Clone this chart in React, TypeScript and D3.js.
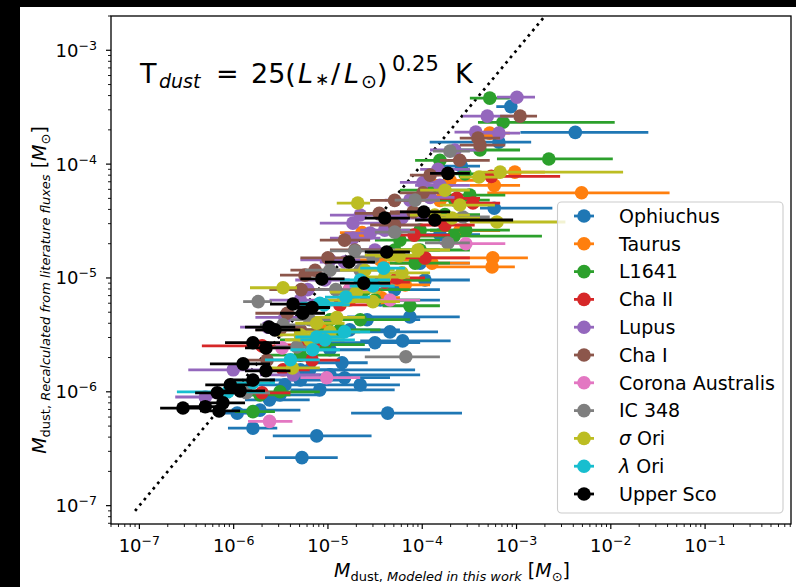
import React from "react";
import * as d3 from "d3";

// Each point: [M_dust modeled, M_dust recalculated, lower bound, upper bound] in solar masses
type Pt = [number, number, number, number];

const ophiuchus: Pt[] = [
  [4.2e-3, 1.9e-4, 1.1e-3, 2.5e-2],
  [8.7e-4, 3.2e-4, 6.1e-4, 1.0e-3],
  [6.5e-4, 1.56e-4, 1.2e-4, 1.43e-3],
  [5.8e-4, 4.1e-5, 4.1e-4, 2.4e-3],
  [2.6e-4, 9.6e-5, 1.54e-4, 4.1e-4],
  [7.4e-5, 4.55e-6, 1.6e-5, 2.5e-4],
  [4.55e-5, 3.36e-6, 1.24e-5, 1.47e-4],
  [6.2e-5, 2.8e-6, 2.2e-5, 2.0e-4],
  [3.15e-5, 2.7e-6, 1.05e-5, 9.5e-5],
  [1.41e-5, 1.8e-6, 6.4e-6, 2.64e-5],
  [7.6e-6, 4.1e-7, 2.6e-6, 2.9e-5],
  [5.3e-6, 2.64e-7, 2.15e-6, 1.27e-5],
  [1.6e-6, 4.8e-7, 8.7e-7, 2.9e-6],
  [1.09e-6, 6.5e-7, 6.4e-7, 2.15e-6],
  [4.3e-5, 6.5e-7, 1.76e-5, 2.64e-4],
  [2.2e-5, 1.15e-6, 1.05e-5, 5.8e-5],
  [1.5e-5, 1.33e-6, 5.1e-6, 4.55e-5],
  [3.1e-6, 9.4e-7, 1.32e-6, 8.2e-6],
  [5.1e-6, 1.56e-6, 1.9e-6, 1.5e-5],
  [1.05e-5, 2.34e-6, 5.1e-6, 2.8e-5],
  [3.5e-6, 1.15e-6, 1.7e-6, 1.05e-5],
  [2.6e-5, 4.3e-6, 1.05e-5, 9.5e-5],
  [6.4e-6, 1.56e-6, 2.4e-6, 8.4e-5],
  [8.2e-6, 1.04e-6, 4.0e-6, 5.1e-5],
  [1.9e-6, 6.9e-7, 1.17e-6, 5.1e-6],
  [3.6e-5, 6.4e-6, 1.9e-5, 1.54e-4],
  [9.5e-5, 1.35e-5, 5.1e-5, 3.2e-4],
  [1.54e-4, 2.4e-5, 8.4e-5, 4.1e-4],
  [1.07e-4, 9.6e-6, 5.8e-5, 3.2e-4],
  [1.7e-5, 3.5e-6, 8.2e-6, 5.8e-5],
  [5.1e-6, 1.27e-6, 2.4e-6, 1.34e-5],
  [2.4e-6, 8.5e-7, 1.32e-6, 6.4e-6],
  [5.1e-5, 7.9e-6, 2.2e-5, 1.54e-4],
  [1.05e-5, 1.41e-6, 5.1e-6, 9.5e-5],
];

const taurus: Pt[] = [
  [4.9e-3, 5.6e-5, 4.9e-4, 4.2e-2],
  [9.6e-4, 8.5e-5, 6.2e-4, 2.0e-3],
  [5.2e-4, 1.87e-4, 3.2e-4, 8.5e-4],
  [5.8e-4, 6.5e-5, 3.2e-4, 1.09e-3],
  [5.6e-4, 1.5e-5, 5.1e-5, 1.32e-3],
  [5.5e-4, 1.25e-5, 1.21e-4, 9.6e-4],
  [1.27e-4, 1.35e-5, 3.6e-5, 3.2e-4],
  [2.3e-5, 2.5e-5, 1.34e-5, 4.55e-5],
  [3.7e-5, 6.7e-6, 2.2e-5, 5.8e-5],
  [6.6e-5, 8.7e-6, 3.6e-5, 1.21e-4],
  [1.54e-4, 4.8e-5, 7.4e-5, 3.2e-4],
  [2.5e-4, 2.6e-5, 1.21e-4, 6.7e-4],
  [1.7e-5, 6.4e-6, 1.05e-5, 2.8e-5],
  [9.3e-6, 3.5e-6, 5.1e-6, 1.7e-5],
  [1.97e-4, 7.2e-5, 1.21e-4, 4.1e-4],
  [3.6e-5, 1.44e-5, 1.93e-5, 7.4e-5],
];

const l1641: Pt[] = [
  [5.2e-4, 3.8e-4, 3.2e-4, 8.5e-4],
  [7.2e-4, 2.33e-4, 3.9e-4, 1.1e-2],
  [2.2e-3, 1.11e-4, 6.2e-4, 1.05e-2],
  [2.84e-4, 8.2e-5, 1.54e-4, 6.7e-4],
  [2.9e-4, 2.63e-5, 1.21e-4, 8.5e-4],
  [2.17e-4, 2.33e-5, 9.5e-5, 1.86e-3],
  [8.4e-5, 1.35e-5, 4.55e-5, 1.97e-4],
  [7.4e-5, 5.7e-6, 3.8e-5, 1.54e-4],
  [1.6e-6, 6.7e-7, 1.03e-6, 2.74e-6],
  [5.1e-6, 2.1e-6, 2.4e-6, 1.34e-5],
  [1.34e-5, 3.5e-6, 5.1e-6, 3.6e-5],
  [3.15e-5, 6.4e-6, 1.34e-5, 9.5e-5],
  [5.1e-5, 1.76e-5, 2.2e-5, 1.54e-4],
  [1.21e-4, 5.9e-5, 5.8e-5, 3.2e-4],
  [1.74e-4, 3.6e-5, 7.4e-5, 4.1e-4],
  [2.2e-5, 4.3e-6, 1.05e-5, 7.4e-5],
  [3.1e-6, 1.0e-6, 1.7e-6, 8.2e-6],
  [4.1e-4, 1.33e-4, 2.2e-4, 1.09e-3],
  [4.0e-5, 9.6e-6, 1.93e-5, 1.21e-4],
  [9.5e-5, 2.63e-5, 5.1e-5, 2.5e-4],
  [9.3e-6, 2.6e-6, 5.1e-6, 2.46e-5],
  [3.2e-4, 5.35e-5, 1.74e-4, 7.6e-4],
  [1.54e-4, 1.08e-4, 8.4e-5, 3.2e-4],
  [2.22e-4, 4.83e-5, 1.21e-4, 5.2e-4],
  [5.8e-5, 2.15e-5, 3.15e-5, 1.54e-4],
  [2.46e-5, 7.9e-6, 1.34e-5, 7.4e-5],
  [1.05e-5, 4.3e-6, 5.1e-6, 2.8e-5],
  [5.7e-6, 2.86e-6, 3.1e-6, 1.5e-5],
  [1.9e-6, 9.4e-7, 1.17e-6, 4.0e-6],
  [9.5e-5, 1.76e-5, 5.1e-5, 3.2e-4],
];

const chaII: Pt[] = [
  [5.4e-4, 7.8e-5, 4.1e-4, 2.9e-3],
  [2.33e-4, 5.0e-5, 1.54e-4, 4.1e-4],
  [3.45e-4, 4.55e-5, 2.2e-4, 6.7e-4],
  [8.2e-5, 2.38e-5, 4.55e-5, 1.97e-4],
  [5.4e-5, 1.0e-5, 3.15e-5, 1.07e-4],
  [4.0e-5, 9.2e-6, 2.2e-5, 7.4e-5],
  [3.34e-6, 1.56e-6, 1.9e-6, 6.4e-6],
  [2.0e-6, 9.8e-7, 1.17e-6, 4.0e-6],
  [6.8e-6, 1.9e-6, 4.0e-6, 1.34e-5],
  [2.0e-6, 2.53e-6, 4.6e-7, 5.1e-6],
  [1.07e-4, 1.5e-5, 5.8e-5, 3.2e-4],
  [1.34e-5, 5.8e-6, 7.3e-6, 2.8e-5],
  [1.74e-4, 2.92e-5, 9.5e-5, 3.6e-4],
  [1.7e-5, 7.9e-6, 9.3e-6, 3.6e-5],
  [5.1e-6, 2.58e-6, 3.1e-6, 1.05e-5],
];

const lupus: Pt[] = [
  [1.01e-3, 3.87e-4, 6.2e-4, 1.57e-3],
  [4.9e-4, 2.64e-4, 2.7e-4, 9.2e-4],
  [3.7e-4, 1.91e-4, 2.2e-4, 6.7e-4],
  [6.5e-4, 1.87e-4, 4.1e-4, 1.09e-3],
  [1.47e-4, 9.0e-5, 9.5e-5, 3.2e-4],
  [1.02e-4, 6.9e-5, 5.8e-5, 1.74e-4],
  [6.1e-5, 3.36e-5, 3.15e-5, 1.21e-4],
  [1.84e-5, 3.03e-5, 8.2e-6, 4.55e-5],
  [1.84e-5, 2.24e-5, 1.05e-5, 3.6e-5],
  [2.8e-5, 2.48e-5, 1.5e-5, 5.8e-5],
  [1.21e-4, 5.1e-5, 7.4e-5, 2.2e-4],
  [6.1e-6, 7.9e-6, 2.4e-6, 1.05e-5],
  [2.3e-6, 3.7e-6, 1.17e-6, 5.1e-6],
  [9.9e-7, 1.56e-6, 3.3e-7, 2.0e-6],
  [5.0e-7, 9.0e-7, 2.4e-7, 8.1e-7],
  [1.5e-5, 1.38e-5, 8.2e-6, 3.15e-5],
  [3.15e-5, 1.76e-5, 1.7e-5, 5.8e-5],
  [4.3e-6, 1.41e-6, 1.9e-6, 8.2e-6],
  [5.5e-5, 3.43e-5, 3.4e-5, 1.21e-4],
  [9.3e-6, 9.6e-6, 4.5e-6, 1.7e-5],
  [3.5e-6, 4.5e-6, 1.7e-6, 6.4e-6],
  [2.22e-4, 1.33e-4, 1.21e-4, 4.1e-4],
  [1.54e-4, 6.5e-5, 8.4e-5, 3.2e-4],
  [7.4e-5, 4.83e-5, 4.0e-5, 1.54e-4],
  [4.0e-5, 2.63e-5, 2.2e-5, 7.4e-5],
  [1.05e-5, 1.44e-5, 5.1e-6, 2.2e-5],
  [2.2e-5, 3.57e-5, 1.05e-5, 5.1e-5],
  [5.1e-6, 6.4e-6, 2.4e-6, 1.05e-5],
];

const chaI: Pt[] = [
  [1.09e-3, 2.64e-4, 6.7e-4, 1.65e-3],
  [3.9e-4, 1.69e-4, 2.5e-4, 6.7e-4],
  [4.1e-4, 1.47e-4, 2.5e-4, 7.6e-4],
  [1.02e-4, 5.6e-5, 5.8e-5, 1.74e-4],
  [8.0e-5, 3.8e-5, 4.55e-5, 1.54e-4],
  [3.5e-5, 3.7e-5, 1.93e-5, 5.8e-5],
  [1.0e-5, 1.5e-5, 5.1e-6, 1.7e-5],
  [5.7e-6, 1.06e-5, 3.1e-6, 1.05e-5],
  [5.2e-6, 7.9e-6, 2.4e-6, 9.3e-6],
  [3.7e-6, 4.9e-6, 1.7e-6, 6.4e-6],
  [2.26e-6, 1.9e-6, 1.17e-6, 4.0e-6],
  [5.1e-6, 3.5e-6, 2.7e-6, 8.2e-6],
  [1.5e-5, 2.15e-5, 8.2e-6, 2.8e-5],
  [5.1e-5, 4.8e-5, 2.8e-5, 9.5e-5],
  [2.5e-4, 1.08e-4, 1.54e-4, 5.2e-4],
  [1.21e-4, 8.0e-5, 7.4e-5, 2.22e-4],
  [5.1e-5, 2.92e-5, 2.8e-5, 9.5e-5],
  [1.93e-5, 1.76e-5, 1.05e-5, 4.0e-5],
  [7.3e-6, 1.17e-5, 4.0e-6, 1.34e-5],
  [3.1e-6, 3.5e-6, 1.7e-6, 5.7e-6],
];

const coronaAustralis: Pt[] = [
  [2.9e-4, 2.0e-5, 1.54e-4, 7.6e-4],
  [2.4e-6, 5.5e-7, 1.42e-6, 4.2e-6],
  [3.26e-6, 2.43e-6, 1.9e-6, 5.7e-6],
  [9.7e-6, 1.33e-6, 5.1e-6, 2.2e-5],
  [4.55e-5, 6.4e-6, 2.8e-5, 9.5e-5],
  [1.7e-5, 7.9e-6, 1.05e-5, 3.15e-5],
];

const ic348: Pt[] = [
  [1.97e-4, 1.3e-4, 1.3e-4, 3.2e-4],
  [2.7e-4, 3.43e-5, 1.54e-4, 5.2e-4],
  [1.87e-4, 2.03e-5, 1.07e-4, 3.2e-4],
  [5.1e-5, 2.53e-5, 3.15e-5, 8.4e-5],
  [6.7e-5, 2.03e-6, 2.46e-5, 1.54e-4],
  [1.93e-5, 1.73e-5, 1.05e-5, 3.6e-5],
  [3.0e-5, 1.53e-5, 1.7e-5, 5.1e-5],
  [1.05e-5, 1.17e-5, 5.7e-6, 1.93e-5],
  [1.21e-5, 7.9e-6, 7.3e-6, 2.2e-5],
  [1.82e-6, 6.2e-6, 1.26e-6, 2.55e-6],
  [4.7e-6, 2.48e-6, 2.7e-6, 8.2e-6],
  [3.34e-6, 3.87e-6, 1.9e-6, 5.7e-6],
  [1.36e-6, 9.8e-7, 8.1e-7, 2.43e-6],
  [8.4e-5, 4.83e-5, 5.1e-5, 1.54e-4],
  [2.2e-5, 1.17e-5, 1.18e-5, 4.55e-5],
  [6.4e-6, 4.3e-6, 4.0e-6, 1.34e-5],
];

const sigmaOri: Pt[] = [
  [6.7e-4, 8.5e-5, 4.1e-4, 1.35e-2],
  [4.0e-4, 7.7e-5, 2.5e-4, 6.7e-4],
  [1.74e-4, 5.9e-5, 9.5e-5, 3.2e-4],
  [6.2e-4, 3.1e-5, 3.2e-4, 3.3e-3],
  [9.0e-5, 1.76e-5, 5.1e-5, 1.97e-4],
  [6.1e-5, 1.11e-5, 3.6e-5, 1.21e-4],
  [2.07e-5, 4.55e-5, 1.24e-5, 2.8e-5],
  [2.07e-4, 3.36e-5, 1.21e-4, 4.1e-4],
  [5.7e-5, 1.56e-5, 3.15e-5, 9.5e-5],
  [3.34e-6, 8.2e-6, 1.49e-6, 4.7e-6],
  [2.46e-5, 1.17e-5, 1.34e-5, 5.1e-5],
  [4.0e-5, 1.02e-5, 2.2e-5, 7.4e-5],
  [2.0e-5, 7.5e-6, 1.05e-5, 3.6e-5],
  [3.0e-5, 6.2e-6, 1.5e-5, 5.8e-5],
  [1.24e-5, 4.5e-6, 7.3e-6, 2.46e-5],
  [1.05e-5, 3.36e-6, 5.7e-6, 2.2e-5],
  [7.6e-6, 4.0e-6, 4.5e-6, 1.5e-5],
  [4.2e-6, 1.62e-6, 2.4e-6, 8.2e-6],
  [6.4e-6, 2.86e-6, 3.5e-6, 1.34e-5],
  [1.36e-4, 3.57e-5, 7.4e-5, 3.2e-4],
  [4.55e-5, 1.59e-5, 2.46e-5, 9.5e-5],
  [1.5e-5, 6.4e-6, 8.2e-6, 3.6e-5],
  [5.1e-6, 3.16e-6, 2.7e-6, 1.21e-5],
  [2.5e-4, 4.37e-5, 1.54e-4, 5.9e-4],
];

const lambdaOri: Pt[] = [
  [3.9e-5, 1.22e-5, 2.2e-5, 6.6e-5],
  [3.0e-5, 8.5e-6, 1.7e-5, 5.1e-5],
  [1.55e-5, 6.8e-6, 9.3e-6, 2.8e-5],
  [9.1e-6, 5.8e-6, 5.1e-6, 1.7e-5],
  [7.6e-6, 3.03e-6, 4.5e-6, 1.5e-5],
  [1.5e-5, 3.36e-6, 8.2e-6, 2.8e-5],
  [6.9e-6, 2.34e-6, 4.0e-6, 1.34e-5],
  [8.7e-7, 1.0e-6, 2.5e-7, 2.15e-6],
  [9.3e-6, 2.86e-6, 5.1e-6, 1.93e-5],
  [8.2e-6, 6.0e-6, 5.1e-6, 1.5e-5],
  [1.6e-6, 1.2e-6, 1.03e-6, 2.74e-6],
  [4.0e-6, 1.91e-6, 2.15e-6, 8.2e-6],
  [2.2e-5, 9.6e-6, 1.34e-5, 4.55e-5],
];

const upperSco: Pt[] = [
  [2.9e-7, 7.2e-7, 1.66e-7, 5.0e-7],
  [5.0e-7, 7.4e-7, 3.05e-7, 8.1e-7],
  [7.0e-7, 6.8e-7, 4.4e-7, 1.17e-6],
  [7.7e-7, 8.0e-7, 4.4e-7, 1.32e-6],
  [6.7e-7, 9.8e-7, 3.9e-7, 1.32e-6],
  [1.17e-6, 1.02e-6, 6.4e-7, 2.15e-6],
  [1.6e-6, 1.27e-6, 9.2e-7, 2.74e-6],
  [2.2e-6, 1.53e-6, 1.32e-6, 4.0e-6],
  [1.26e-6, 1.76e-6, 5.6e-7, 2.43e-6],
  [1.6e-6, 2.7e-6, 8.1e-7, 3.1e-6],
  [2.2e-6, 2.43e-6, 1.32e-6, 4.0e-6],
  [2.74e-6, 3.5e-6, 1.7e-6, 5.1e-6],
  [4.26e-6, 5.9e-6, 2.43e-6, 7.3e-6],
  [5.4e-6, 4.9e-6, 3.1e-6, 9.3e-6],
  [6.8e-6, 5.5e-6, 4.0e-6, 1.05e-5],
  [2.37e-6, 3.7e-6, 1.32e-6, 4.5e-6],
  [8.6e-6, 9.8e-6, 5.1e-6, 1.5e-5],
  [1.67e-5, 1.38e-5, 9.3e-6, 3.15e-5],
  [2.4e-5, 9.0e-6, 1.34e-5, 4.55e-5],
  [4.2e-5, 1.69e-5, 2.46e-5, 7.4e-5],
  [4.0e-5, 3.36e-5, 2.46e-5, 7.4e-5],
  [1.04e-4, 3.8e-5, 5.8e-5, 1.97e-4],
  [1.36e-4, 3.23e-5, 8.4e-5, 9.2e-4],
  [1.87e-4, 8.3e-5, 1.21e-4, 3.2e-4],
  [9.2e-7, 1.15e-6, 5.0e-7, 1.7e-6],
];

const seriesNames = [
  "Ophiuchus", "Taurus", "L1641", "Cha II", "Lupus", "Cha I",
  "Corona Australis", "IC 348", "σ Ori", "λ Ori", "Upper Sco",
];
const seriesColors = [
  "#1f77b4", "#ff7f0e", "#2ca02c", "#d62728", "#9467bd", "#8c564b",
  "#e377c2", "#7f7f7f", "#bcbd22", "#17becf", "#000000",
];
const seriesData = [
  ophiuchus, taurus, l1641, chaII, lupus, chaI,
  coronaAustralis, ic348, sigmaOri, lambdaOri, upperSco,
];

const xTickExps = [-7, -6, -5, -4, -3, -2, -1];
const yTickExps = [-7, -6, -5, -4, -3];
const xDomain = [5.0e-8, 0.815];
const yDomain = [6.9e-8, 2.0e-3];
const oneToOne = [9e-8, 1e-2];

const W = 796;
const H = 587;
const M = { left: 111, right: 791, top: 16, bottom: 524 };
const FONT = "DejaVu Sans, sans-serif";

function minorTicks(domain: number[]): number[] {
  const out: number[] = [];
  for (let e = -9; e <= 0; e++) {
    for (let m = 2; m <= 9; m++) {
      const v = m * Math.pow(10, e);
      if (v >= domain[0] && v <= domain[1]) out.push(v);
    }
  }
  return out;
}

function Pow10({ exp }: { exp: number }) {
  return (
    <>
      <tspan>10</tspan>
      <tspan fontSize={12.6} dy={-7}>{"\u2212" + Math.abs(exp)}</tspan>
    </>
  );
}

function LegendLabel({ name }: { name: string }) {
  if (name.startsWith("σ") || name.startsWith("λ")) {
    return (
      <>
        <tspan fontStyle="italic">{name[0]}</tspan>
        <tspan>{name.slice(1)}</tspan>
      </>
    );
  }
  return <tspan>{name}</tspan>;
}

export default function App() {
  const x = d3.scaleLog().domain(xDomain).range([M.left, M.right]);
  const y = d3.scaleLog().domain(yDomain).range([M.bottom, M.top]);
  const xMinor = minorTicks(xDomain);
  const yMinor = minorTicks(yDomain);
  const diag = d3.line<number>().x((v) => x(v)).y((v) => y(v))(oneToOne) || "";

  const legendTop = 216;
  const legendStep = 27.8;

  return (
    <svg
      width={W}
      height={H}
      style={{ position: "absolute", left: 0, top: 0, display: "block" }}
      fontFamily={FONT}
    >
      <defs>
        <clipPath id="plotArea">
          <rect x={M.left} y={M.top} width={M.right - M.left} height={M.bottom - M.top} />
        </clipPath>
      </defs>
      <rect x={0} y={0} width={W} height={H} fill="#000" />
      <rect x={20} y={7} width={W - 20} height={H - 7} fill="#fff" />

      <g clipPath="url(#plotArea)">
        <path d={diag} stroke="#000" strokeWidth={2.7} strokeDasharray="2.7 4.3" fill="none" />
        {seriesData.map((pts, si) => (
          <g key={seriesNames[si]}>
            {pts.map((p, i) => (
              <line
                key={"b" + i}
                x1={x(p[2])}
                x2={x(p[3])}
                y1={y(p[1])}
                y2={y(p[1])}
                stroke={seriesColors[si]}
                strokeWidth={2.8}
              />
            ))}
            {pts.map((p, i) => (
              <circle key={"m" + i} cx={x(p[0])} cy={y(p[1])} r={6.8} fill={seriesColors[si]} />
            ))}
          </g>
        ))}
      </g>

      {/* axes frame */}
      <rect
        x={M.left}
        y={M.top}
        width={M.right - M.left}
        height={M.bottom - M.top}
        fill="none"
        stroke="#000"
        strokeWidth={1.3}
      />

      {/* x ticks */}
      {xMinor.map((v, i) => (
        <line key={"xm" + i} x1={x(v)} x2={x(v)} y1={M.bottom} y2={M.bottom + 3} stroke="#000" strokeWidth={0.9} />
      ))}
      {xTickExps.map((e) => {
        const v = Math.pow(10, e);
        return (
          <g key={"xt" + e}>
            <line x1={x(v)} x2={x(v)} y1={M.bottom} y2={M.bottom + 5} stroke="#000" strokeWidth={1.2} />
            <text x={x(v)} y={552} textAnchor="middle" fontSize={18} fill="#000">
              <Pow10 exp={e} />
            </text>
          </g>
        );
      })}

      {/* y ticks */}
      {yMinor.map((v, i) => (
        <line key={"ym" + i} x1={M.left - 3} x2={M.left} y1={y(v)} y2={y(v)} stroke="#000" strokeWidth={0.9} />
      ))}
      {yTickExps.map((e) => {
        const v = Math.pow(10, e);
        return (
          <g key={"yt" + e}>
            <line x1={M.left - 5} x2={M.left} y1={y(v)} y2={y(v)} stroke="#000" strokeWidth={1.2} />
            <text x={97} y={y(v) + 6.5} textAnchor="end" fontSize={18} fill="#000">
              <Pow10 exp={e} />
            </text>
          </g>
        );
      })}

      {/* axis labels */}
      <text x={452} y={577} textAnchor="middle" fontSize={19} fill="#000">
        <tspan fontStyle="italic">M</tspan>
        <tspan fontSize={13} dy={4}>{"dust, "}</tspan>
        <tspan fontSize={13} fontStyle="italic">Modeled in this work</tspan>
        <tspan dy={-4}>{" ["}</tspan>
        <tspan fontStyle="italic">M</tspan>
        <tspan fontSize={13} dy={4}>⊙</tspan>
        <tspan dy={-4}>]</tspan>
      </text>
      <text
        transform="rotate(-90)"
        x={-290}
        y={46}
        textAnchor="middle"
        fontSize={19}
        fill="#000"
      >
        <tspan fontStyle="italic">M</tspan>
        <tspan fontSize={13} dy={4}>{"dust, "}</tspan>
        <tspan fontSize={13} fontStyle="italic">Recalculated from literature fluxes</tspan>
        <tspan dy={-4}>{" ["}</tspan>
        <tspan fontStyle="italic">M</tspan>
        <tspan fontSize={13} dy={4}>⊙</tspan>
        <tspan dy={-4}>]</tspan>
      </text>

      {/* dust temperature relation */}
      <text y={83} fontSize={27} fill="#000">
        <tspan x={140}>T</tspan>
        <tspan x={159} fontSize={19} fontStyle="italic" dy={5}>dust</tspan>
        <tspan x={216} dy={-5}>=</tspan>
        <tspan x={251}>25(</tspan>
        <tspan x={298} fontStyle="italic">L</tspan>
        <tspan x={315} fontSize={17} dy={2}>{"\u2217"}</tspan>
        <tspan x={331} dy={-2}>/</tspan>
        <tspan x={344} fontStyle="italic">L</tspan>
        <tspan x={361} fontSize={19} dy={5}>⊙</tspan>
        <tspan x={377} dy={-5}>)</tspan>
        <tspan x={392} fontSize={21} dy={-12}>0.25</tspan>
        <tspan x={455} dy={12}>K</tspan>
      </text>

      {/* legend */}
      <rect x={557.5} y={202} width={225.5} height={311} rx={4} fill="#fff" fillOpacity={0.8} stroke="#cccccc" strokeWidth={1.1} />
      {seriesNames.map((name, i) => {
        const ly = legendTop + i * legendStep;
        return (
          <g key={"lg" + name}>
            <line x1={574} x2={594} y1={ly} y2={ly} stroke={seriesColors[i]} strokeWidth={2.8} />
            <circle cx={584} cy={ly} r={6.8} fill={seriesColors[i]} />
            <text x={619} y={ly + 6.8} fontSize={19} fill="#000">
              <LegendLabel name={name} />
            </text>
          </g>
        );
      })}
    </svg>
  );
}
